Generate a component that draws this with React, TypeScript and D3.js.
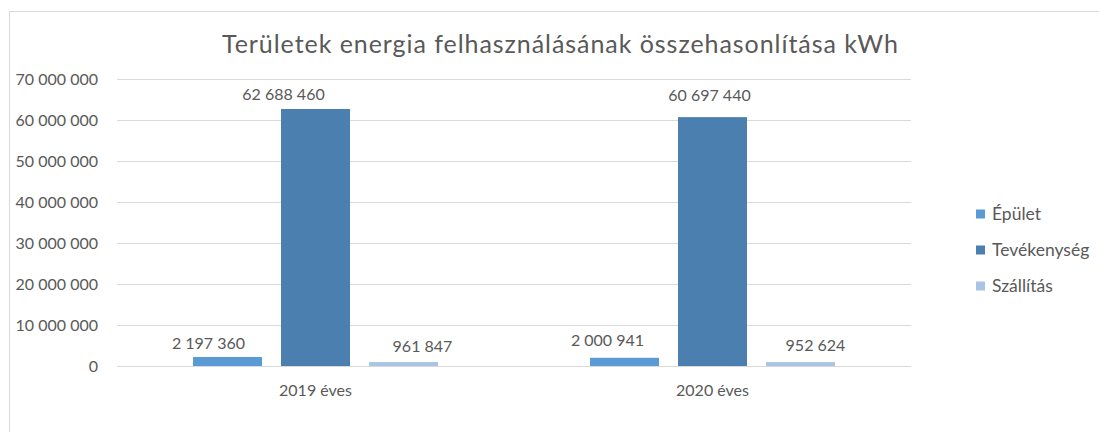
import React from 'react';
import * as d3 from 'd3';

const categories = ['2019 éves', '2020 éves'];
const seriesNames = ['Épület', 'Tevékenység', 'Szállítás'];
const epulet = [2197360, 2000941];
const tevekenyseg = [62688460, 60697440];
const szallitas = [961847, 952624];
const yTicks = [0, 10000000, 20000000, 30000000, 40000000, 50000000, 60000000, 70000000];

const colors = ['#5b9bd5', '#4a7fb0', '#aac4e6'];
// the data labels were nudged by hand in the original, [category][series]
const labelNudge = [
  [[-19, -8], [-32, -9], [19, -10]],
  [[-17, -12], [-3, -16], [15, -11]],
];

const W = 1099;
const H = 432;
const margin = { left: 117, right: 911, top: 79, bottom: 366 };
const font = 'Lato, "Open Sans", sans-serif';
const textColor = '#595959';

const fmt = (v: number) => d3.format(',')(v).replace(/,/g, ' ');

const App = () => {
  const values = [epulet, tevekenyseg, szallitas];
  const x0 = d3.scaleBand().domain(categories).range([margin.left, margin.right]);
  const x1 = d3
    .scaleBand()
    .domain(seriesNames)
    .range([0, x0.bandwidth()])
    .paddingInner(0.216)
    .paddingOuter(0.864);
  const y = d3.scaleLinear().domain([0, 70000000]).range([margin.bottom, margin.top]);

  return (
    <svg width={W} height={H} style={{ position: 'absolute', left: 0, top: 0, background: '#fff' }} fontFamily={font}>
      <rect x={9.5} y={11.5} width={W + 10} height={H + 10} fill="#fff" stroke="#d9d9d9" />
      <text
        x={560}
        y={53}
        textAnchor="middle"
        fontSize={25}
        fill={textColor}
        textLength={676}
        lengthAdjust="spacing"
      >
        Területek energia felhasználásának összehasonlítása kWh
      </text>

      {yTicks.map(t => (
        <g key={t}>
          <line x1={margin.left} x2={margin.right} y1={Math.round(y(t)) + 0.5} y2={Math.round(y(t)) + 0.5} stroke="#d9d9d9" />
          <text x={98} y={y(t)} dy="0.36em" textAnchor="end" fontSize={16} fill={textColor}>
            {fmt(t)}
          </text>
        </g>
      ))}

      {categories.map((c, ci) => (
        <g key={c} transform={`translate(${x0(c)},0)`}>
          {seriesNames.map((s, si) => {
            const v = values[si][ci];
            const bx = x1(s) as number;
            const [dx, dy] = labelNudge[ci][si];
            return (
              <g key={s}>
                <rect x={bx} y={y(v)} width={x1.bandwidth()} height={y(0) - y(v)} fill={colors[si]} />
                <text
                  x={bx + x1.bandwidth() / 2 + dx}
                  y={y(v) + dy}
                  textAnchor="middle"
                  fontSize={16}
                  fill={textColor}
                >
                  {fmt(v)}
                </text>
              </g>
            );
          })}
          <text x={x0.bandwidth() / 2} y={396} textAnchor="middle" fontSize={16} fill={textColor}>
            {c}
          </text>
        </g>
      ))}

      {seriesNames.map((s, i) => (
        <g key={s} transform={`translate(976,${214 + i * 36})`}>
          <rect x={0} y={-4.5} width={9} height={9} fill={colors[i]} />
          <text x={16} y={0} dy="0.36em" fontSize={17.5} fill={textColor}>
            {s}
          </text>
        </g>
      ))}
    </svg>
  );
};

export default App;
